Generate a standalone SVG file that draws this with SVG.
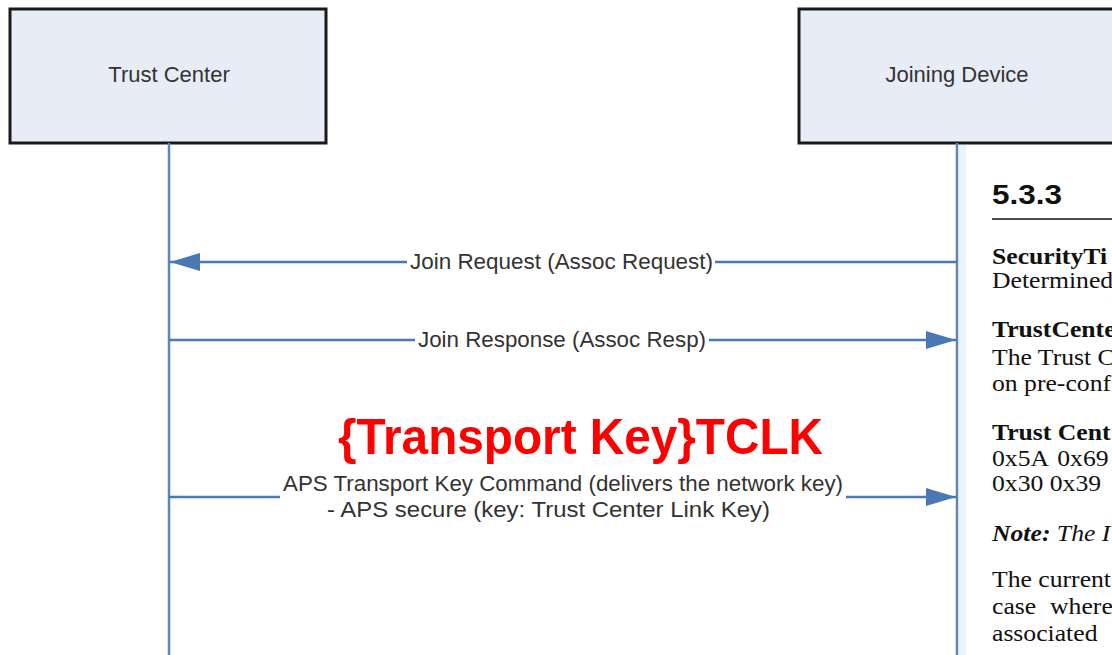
<svg xmlns="http://www.w3.org/2000/svg" width="1112" height="655" viewBox="0 0 1112 655">
<style>
.box{fill:#e8ecf6;stroke:#1a1a1a;stroke-width:3}
.lbl{font-family:"Liberation Sans",Arial,sans-serif;font-size:22px;fill:#333;text-anchor:middle}
.life{stroke:#5a86bb;stroke-width:2.5;fill:none}
.msg{stroke:#4a78b4;stroke-width:2.5;fill:none}
.mt{font-family:"Liberation Sans",Arial,sans-serif;font-size:22px;fill:#333}
.doc{font-family:"Liberation Serif","Times New Roman",serif;font-size:24px;fill:#111}
.b{font-weight:bold}
</style>
<defs>
<marker id="ahB" viewBox="0 0 30 18" refX="30" refY="9" markerWidth="30" markerHeight="18" markerUnits="userSpaceOnUse" orient="auto">
<path d="M0,0 L30,9 L0,18 z" fill="#4a78b4"/>
</marker>
</defs>
<rect width="1112" height="655" fill="#ffffff"/>
<rect x="959" y="145" width="7" height="510" fill="#eef3fa"/>

<g id="trust-center">
<rect class="box" x="10" y="9" width="316" height="134"/>
<text class="lbl" x="169" y="82">Trust Center</text>
</g>
<g id="joining-device">
<rect class="box" x="799" y="9" width="320" height="134"/>
<text class="lbl" x="957" y="82">Joining Device</text>
</g>

<g id="connectors">
<line class="life" x1="169" y1="143" x2="169" y2="655"/>
<line class="life" x1="957" y1="143" x2="957" y2="655"/>
<line class="msg" x1="957" y1="262" x2="715" y2="262"/>
<line class="msg" x1="407" y1="262" x2="170" y2="262" marker-end="url(#ahB)"/>
<line class="msg" x1="169" y1="340" x2="415" y2="340"/>
<line class="msg" x1="709" y1="340" x2="956" y2="340" marker-end="url(#ahB)"/>
<line class="msg" x1="169" y1="497" x2="280" y2="497"/>
<line class="msg" x1="846" y1="497" x2="956" y2="497" marker-end="url(#ahB)"/>
</g>

<g id="labels">
<text class="mt" x="410" y="269" textLength="303" lengthAdjust="spacingAndGlyphs">Join Request (Assoc Request)</text>
<text class="mt" x="418" y="347" textLength="288" lengthAdjust="spacingAndGlyphs">Join Response (Assoc Resp)</text>
<text class="mt" x="283" y="491" textLength="560" lengthAdjust="spacingAndGlyphs">APS Transport Key Command (delivers the network key)</text>
<text class="mt" x="327" y="517" textLength="443" lengthAdjust="spacingAndGlyphs">- APS secure (key: Trust Center Link Key)</text>
<text x="338" y="454" font-family="'Liberation Sans',Arial,sans-serif" font-weight="bold" font-size="50" fill="#ff0000" textLength="485" lengthAdjust="spacingAndGlyphs">{Transport Key}TCLK</text>
</g>

<g id="document">
<text x="992" y="204" font-family="'Liberation Sans',Arial,sans-serif" font-weight="bold" font-size="28" fill="#111" textLength="70" lengthAdjust="spacingAndGlyphs">5.3.3</text>
<line x1="992" y1="219" x2="1112" y2="219" stroke="#111" stroke-width="1.5"/>
<g transform="translate(992,0) scale(1.07,1) translate(-992,0)">
<text class="doc b" x="992" y="264">SecurityTi</text>
<text class="doc" x="992" y="288">Determined</text>
<text class="doc b" x="992" y="337">TrustCente</text>
<text class="doc" x="992" y="365">The Trust C</text>
<text class="doc" x="992" y="391">on pre-conf</text>
<text class="doc b" x="992" y="440">Trust Cent</text>
<text class="doc" x="992" y="466" word-spacing="3">0x5A 0x69</text>
<text class="doc" x="992" y="491">0x30 0x39</text>
<text class="doc" x="992" y="541" font-style="italic"><tspan font-weight="bold">Note:</tspan> The I</text>
<text class="doc" x="992" y="587">The current</text>
<text class="doc" x="992" y="614" word-spacing="7">case where</text>
<text class="doc" x="992" y="641">associated</text>
</g>
</g>
</svg>
